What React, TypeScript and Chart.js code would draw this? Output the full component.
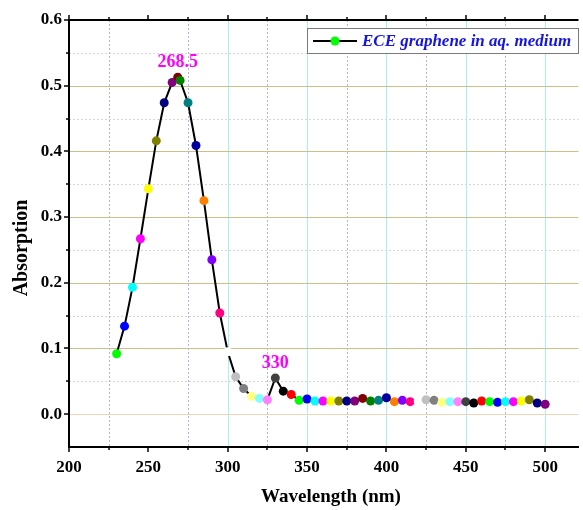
import React, { useEffect, useRef } from 'react';
import { Chart, registerables } from 'chart.js';

Chart.register(...registerables);

const seriesLabel = 'ECE graphene in aq. medium';
const xTitle = 'Wavelength (nm)';
const yTitle = 'Absorption';

const wavelengths = [
  230, 235, 240, 245, 250, 255, 260, 265, 268.5, 270, 275, 280, 285, 290, 295,
  300, 305, 310, 315, 320, 325, 330, 335, 340, 345, 350, 355, 360, 365, 370,
  375, 380, 385, 390, 395, 400, 405, 410, 415, 420, 425, 430, 435, 440, 445,
  450, 455, 460, 465, 470, 475, 480, 485, 490, 495, 500,
];

const absorption = [
  0.092, 0.134, 0.193, 0.267, 0.343, 0.416, 0.474, 0.505, 0.513, 0.508, 0.474,
  0.409, 0.325, 0.235, 0.154, 0.095, 0.057, 0.039, 0.027, 0.024, 0.022, 0.055,
  0.035, 0.030, 0.021, 0.023, 0.020, 0.020, 0.020, 0.020, 0.020, 0.020, 0.024,
  0.020, 0.021, 0.025, 0.019, 0.021, 0.019, 0.020, 0.022, 0.021, 0.018, 0.019,
  0.019, 0.019, 0.017, 0.020, 0.019, 0.018, 0.019, 0.019, 0.020, 0.022, 0.017,
  0.015,
];

// Origin-style incrementing colour list, starting at Green
const pointColors = [
  '#00FF00', '#0000FF', '#00FFFF', '#FF00FF', '#FFFF00', '#808000', '#000080',
  '#800080', '#800000', '#008000', '#008080', '#0000A0', '#FF8000', '#8000FF',
  '#FF0080', '#FFFFFF', '#C0C0C0', '#808080', '#FFFF80', '#80FFFF', '#FF80FF',
  '#404040', '#000000', '#FF0000', '#00FF00', '#0000FF', '#00FFFF', '#FF00FF',
  '#FFFF00', '#808000', '#000080', '#800080', '#800000', '#008000', '#008080',
  '#0000A0', '#FF8000', '#8000FF', '#FF0080', '#FFFFFF', '#C0C0C0', '#808080',
  '#FFFF80', '#80FFFF', '#FF80FF', '#404040', '#000000', '#FF0000', '#00FF00',
  '#0000FF', '#00FFFF', '#FF00FF', '#FFFF00', '#808000', '#000080', '#800080',
];

const xTickValues = [200, 250, 300, 350, 400, 450, 500];
const xMinorValues = [225, 275, 325, 375, 425, 475];
const xCyanGridValues = [300, 350, 400, 450, 500];
const yTickValues = [0.0, 0.1, 0.2, 0.3, 0.4, 0.5, 0.6];
const yMinorValues = [0.05, 0.15, 0.25, 0.35, 0.45, 0.55];
const peakWavelengths = [268.5, 330];
const peakTexts = ['268.5', '330'];

const FONT = '"Liberation Serif", "Times New Roman", serif';

const decor = {
  id: 'decor',
  beforeDraw(chart: any) {
    const { ctx, chartArea: a, scales } = chart;
    const x = scales.x;
    const y = scales.y;
    ctx.save();
    ctx.fillStyle = '#ffffff';
    ctx.fillRect(0, 0, chart.width, chart.height);
    const hline = (v: number, color: string, dash: number[]) => {
      const py = Math.round(y.getPixelForValue(v)) + 0.5;
      ctx.strokeStyle = color;
      ctx.setLineDash(dash);
      ctx.beginPath();
      ctx.moveTo(a.left, py);
      ctx.lineTo(a.right, py);
      ctx.stroke();
    };
    const vline = (v: number, color: string, dash: number[]) => {
      const px = Math.round(x.getPixelForValue(v)) + 0.5;
      ctx.strokeStyle = color;
      ctx.setLineDash(dash);
      ctx.beginPath();
      ctx.moveTo(px, a.top);
      ctx.lineTo(px, a.bottom);
      ctx.stroke();
    };
    ctx.lineWidth = 1;
    yMinorValues.forEach((v) => hline(v, '#d6d6e0', [2, 2]));
    xMinorValues.forEach((v) => vline(v, '#b4b4e4', [2, 2]));
    xCyanGridValues.forEach((v) => vline(v, '#a8eef2', []));
    yTickValues.forEach((v) => {
      if (v <= 0.0001) hline(v, '#f0d4b8', []);
      else if (v < 0.59) hline(v, '#c6c288', []);
    });
    ctx.restore();
  },
  afterDatasetsDraw(chart: any) {
    const { ctx, scales } = chart;
    const x = scales.x;
    const y = scales.y;
    ctx.save();
    ctx.fillStyle = '#FF00FF';
    ctx.font = `bold 18px ${FONT}`;
    ctx.textAlign = 'center';
    ctx.textBaseline = 'middle';
    peakWavelengths.forEach((w, i) => {
      const idx = wavelengths.indexOf(w);
      const px = x.getPixelForValue(w);
      const py = y.getPixelForValue(absorption[idx]);
      ctx.fillText(peakTexts[i], px, py - 15);
    });
    ctx.restore();
  },
  afterDraw(chart: any) {
    const { ctx, chartArea: a, scales } = chart;
    const x = scales.x;
    const y = scales.y;
    ctx.save();
    ctx.strokeStyle = '#000';
    // top frame
    ctx.lineWidth = 2;
    ctx.beginPath();
    ctx.moveTo(a.left - 1, a.top);
    ctx.lineTo(a.right, a.top);
    ctx.stroke();
    ctx.lineWidth = 1.5;
    const tick = (x1: number, y1: number, x2: number, y2: number) => {
      ctx.beginPath();
      ctx.moveTo(x1, y1);
      ctx.lineTo(x2, y2);
      ctx.stroke();
    };
    xTickValues.forEach((v) => {
      const px = Math.round(x.getPixelForValue(v));
      tick(px, a.bottom, px, a.bottom + 5);
      tick(px, a.top, px, a.top - 5);
    });
    xMinorValues.forEach((v) => {
      const px = Math.round(x.getPixelForValue(v));
      tick(px, a.bottom, px, a.bottom + 3);
      tick(px, a.top, px, a.top - 3);
    });
    yTickValues.forEach((v) => {
      const py = Math.round(y.getPixelForValue(v));
      tick(a.left, py, a.left - 5, py);
    });
    yMinorValues.forEach((v) => {
      const py = Math.round(y.getPixelForValue(v));
      tick(a.left, py, a.left - 3, py);
    });

    // axis titles
    ctx.fillStyle = '#000';
    ctx.textAlign = 'center';
    ctx.textBaseline = 'middle';
    ctx.font = `bold 19px ${FONT}`;
    ctx.fillText(xTitle, 331, 497);
    ctx.save();
    ctx.translate(22, 248);
    ctx.rotate(-Math.PI / 2);
    ctx.font = `bold 20px ${FONT}`;
    ctx.fillText(yTitle, 0, 0);
    ctx.restore();

    // legend box
    const bx = 307;
    const by = 28;
    const bw = 271;
    const bh = 25;
    ctx.fillStyle = '#ffffff';
    ctx.fillRect(bx, by, bw, bh);
    ctx.strokeStyle = '#7a7a7a';
    ctx.lineWidth = 1;
    ctx.strokeRect(bx + 0.5, by + 0.5, bw, bh);
    const ly = by + bh / 2 + 0.5;
    ctx.strokeStyle = '#000';
    ctx.lineWidth = 2;
    tick(313, ly, 357, ly);
    ctx.fillStyle = pointColors[0];
    ctx.beginPath();
    ctx.arc(335, ly, 4.5, 0, Math.PI * 2);
    ctx.fill();
    ctx.fillStyle = '#1515DD';
    ctx.font = `italic bold 17px ${FONT}`;
    ctx.textAlign = 'left';
    ctx.textBaseline = 'middle';
    ctx.fillText(chart.data.datasets[0].label, 362, ly + 1);
    ctx.restore();
  },
};

export default function App() {
  const ref = useRef<HTMLCanvasElement | null>(null);
  useEffect(() => {
    if (!ref.current) return;
    const chart = new Chart(ref.current, {
      type: 'line',
      data: {
        datasets: [
          {
            label: seriesLabel,
            data: wavelengths.map((w, i) => ({ x: w, y: absorption[i] })),
            borderColor: '#000000',
            borderWidth: 2,
            pointBackgroundColor: pointColors,
            pointBorderColor: pointColors,
            pointBorderWidth: 0,
            pointRadius: 4.5,
            tension: 0,
          },
        ],
      },
      options: {
        animation: false,
        responsive: false,
        devicePixelRatio: 1,
        layout: { padding: { top: 20, right: 0, left: 0, bottom: 0 } },
        plugins: { legend: { display: false }, tooltip: { enabled: false } },
        scales: {
          x: {
            type: 'linear',
            min: 200,
            max: 521,
            afterBuildTicks: (s: any) => {
              s.ticks = xTickValues.map((v) => ({ value: v }));
            },
            afterFit: (s: any) => {
              s.height = 63;
            },
            grid: { display: false, drawTicks: false },
            border: { display: true, color: '#000', width: 2 },
            ticks: {
              padding: 10,
              color: '#000',
              font: { family: FONT, size: 17, weight: 'bold' },
              callback: (v: any) => String(v),
            },
            title: { display: false },
          },
          y: {
            type: 'linear',
            min: -0.05,
            max: 0.6,
            afterBuildTicks: (s: any) => {
              s.ticks = yTickValues.map((v) => ({ value: v }));
            },
            afterFit: (s: any) => {
              s.width = 69;
            },
            grid: { display: false, drawTicks: false },
            border: { display: true, color: '#000', width: 2 },
            ticks: {
              padding: 7,
              color: '#000',
              font: { family: FONT, size: 17, weight: 'bold' },
              callback: (v: any) => Number(v).toFixed(1),
            },
            title: { display: false },
          },
        },
      },
      plugins: [decor],
    } as any);
    return () => chart.destroy();
  }, []);
  return (
    <div style={{ position: 'absolute', left: 0, top: 0, width: 583, height: 510 }}>
      <canvas ref={ref} width={583} height={510} />
    </div>
  );
}
